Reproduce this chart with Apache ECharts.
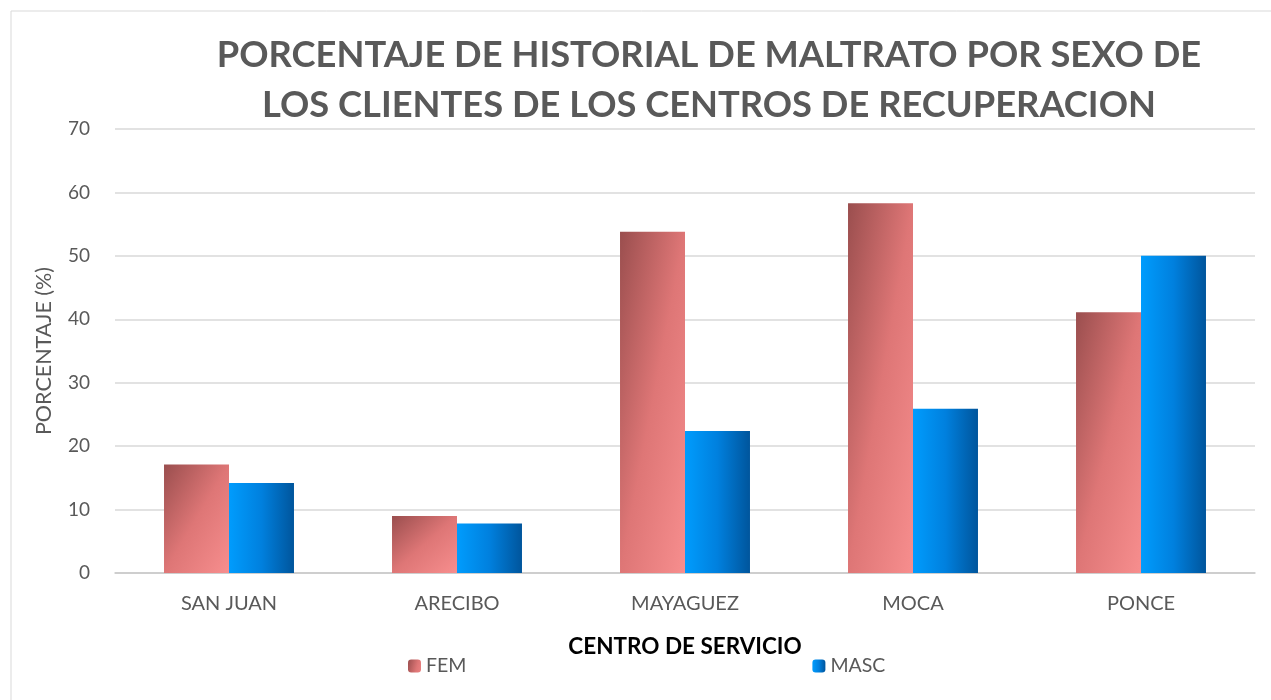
<!DOCTYPE html>
<html>
<head>
<meta charset="utf-8">
<script src="https://cdn.jsdelivr.net/npm/echarts@6/dist/echarts.min.js"></script>
<style>
  html, body { margin: 0; padding: 0; background: #fff; }
  .box { width: 1271px; height: 700px; }
</style>
</head>
<body>
<div class="box"></div>
<script>
const chartDom = document.getElementsByClassName('box')[0];
const myChart = echarts.init(chartDom);
let option;

const centros = ['SAN JUAN', 'ARECIBO', 'MAYAGUEZ', 'MOCA', 'PONCE'];
const fem = [17.1, 9.0, 53.8, 58.3, 41.1];
const masc = [14.2, 7.8, 22.4, 25.9, 50.0];
const yTicks = { min: 0, max: 70, interval: 10 };

const FONT = 'Lato, "Open Sans", sans-serif';
const femStops = [
    { offset: 0, color: '#9a4e4e' },
    { offset: 0.5, color: '#de7676' },
    { offset: 1, color: '#f78e8e' }
];

// office style "scaled" gradient: iso-lines follow the anti-diagonal of each bar
function femColor(v) {
    const w = 65, h = Math.max(v / yTicks.max * 444, 1);
    const t = 2 * w * h / (w * w + h * h);
    return new echarts.graphic.LinearGradient(0, 0, h * t / w, w * t / h, femStops);
}
const mascColor = new echarts.graphic.LinearGradient(0, 0, 1, 0, [
    { offset: 0, color: '#009cfd' },
    { offset: 0.5, color: '#0080de' },
    { offset: 1, color: '#00559c' }
]);

const shadow = {
    shadowBlur: 6,
    shadowColor: 'rgba(0,0,0,0.35)',
    shadowOffsetX: 2,
    shadowOffsetY: 2
};

option = {
    backgroundColor: '#fff',
    textStyle: { fontFamily: FONT },
    title: {
        text: 'PORCENTAJE DE HISTORIAL DE MALTRATO POR SEXO DE\nLOS CLIENTES DE LOS CENTROS DE RECUPERACION',
        left: 709,
        textAlign: 'center',
        top: 30,
        padding: 0,
        textStyle: {
            fontFamily: FONT,
            fontSize: 36.3,
            fontWeight: 'bold',
            color: '#595959',
            lineHeight: 50
        }
    },
    graphic: [{
        type: 'rect',
        shape: { x: 11, y: 11, width: 1300, height: 720 },
        style: { fill: 'none', stroke: '#d9d9d9', lineWidth: 1 },
        silent: true
    }],
    legend: {
        data: ['FEM', 'MASC'],
        left: 403,
        top: 651,
        itemWidth: 13,
        itemHeight: 13,
        itemGap: 346,
        textStyle: { fontFamily: FONT, fontSize: 19.5, color: '#595959' }
    },
    grid: {
        left: 115,
        right: 16,
        top: 129,
        bottom: 127
    },
    xAxis: {
        type: 'category',
        data: centros,
        name: 'CENTRO DE SERVICIO',
        nameLocation: 'middle',
        nameGap: 62,
        nameTextStyle: { fontFamily: FONT, fontSize: 22.5, fontWeight: 'bold', color: '#000' },
        axisLine: { lineStyle: { color: '#c8c8c8', width: 1.5 } },
        axisTick: { show: false },
        axisLabel: { fontFamily: FONT, fontSize: 20, color: '#595959', margin: 21 }
    },
    yAxis: {
        type: 'value',
        min: yTicks.min,
        max: yTicks.max,
        interval: yTicks.interval,
        name: 'PORCENTAJE (%)',
        nameLocation: 'middle',
        nameGap: 60,
        nameRotate: 90,
        nameTextStyle: { fontFamily: FONT, fontSize: 21.5, color: '#595959' },
        axisLine: { show: false },
        axisTick: { show: false },
        axisLabel: { fontFamily: FONT, fontSize: 19, color: '#595959', margin: 25 },
        splitLine: { lineStyle: { color: '#d9d9d9', width: 1.5 } }
    },
    series: [
        {
            name: 'FEM',
            type: 'bar',
            barWidth: '28.5%',
            barGap: '0%',
            itemStyle: Object.assign({ color: femColor(20) }, shadow),
            data: fem.map(v => ({ value: v, itemStyle: { color: femColor(v) } }))
        },
        {
            name: 'MASC',
            type: 'bar',
            barWidth: '28.5%',
            itemStyle: Object.assign({ color: mascColor }, shadow),
            data: masc
        }
    ]
};

myChart.setOption(option);
</script>
</body>
</html>
